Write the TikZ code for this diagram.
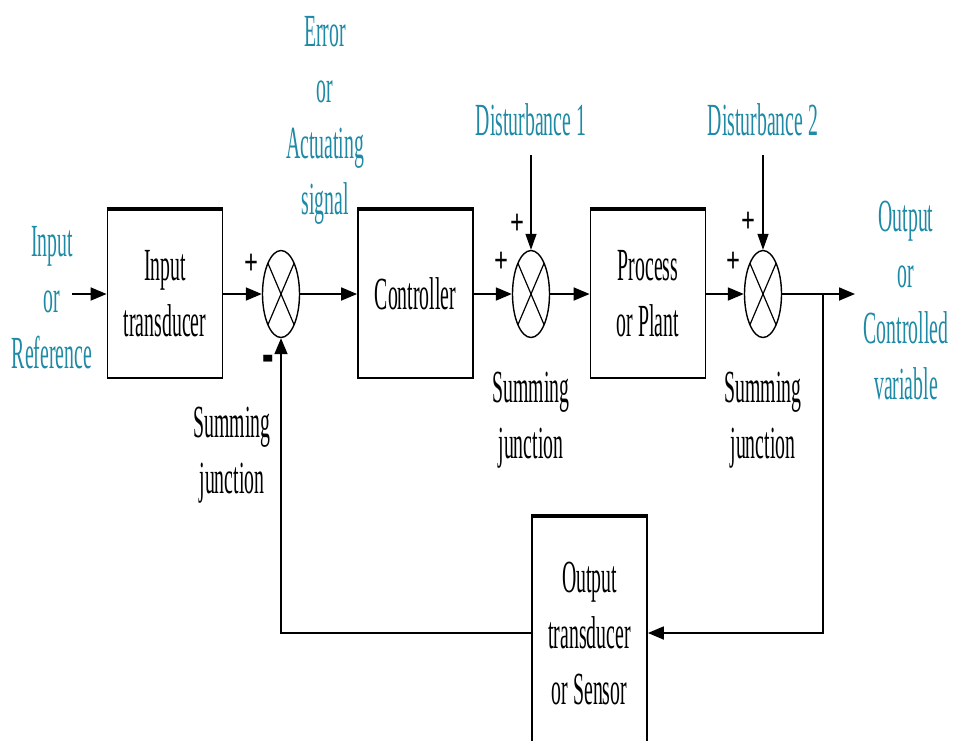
\documentclass[tikz,border=0pt]{standalone}
\usepackage{fontspec}
\setmainfont[FakeStretch=0.43]{Liberation Serif}
\newfontfamily\sgnfont[FakeStretch=0.68]{Liberation Serif}
\usetikzlibrary{arrows.meta,shapes.geometric,calc}
\definecolor{lbl}{RGB}{30,138,165}
\begin{document}
\begin{tikzpicture}[x=1pt,y=-1pt,
  blk/.style={draw, line width=1.8pt, minimum width=115pt, minimum height=168pt, inner sep=0pt, align=center, font=\fontsize{46}{56}\selectfont},
  sj/.style={draw, ellipse, line width=1.4pt, minimum width=37pt, minimum height=87pt, inner sep=0pt},
  sig/.style={line width=1.8pt, -{Triangle[length=16pt,width=13pt]}},
  dsig/.style={line width=1.3pt, -{Triangle[length=16pt,width=11pt]}},
  lab/.style={align=center, font=\fontsize{46}{56}\selectfont, inner sep=0pt},
  tl/.style={lab, text=lbl},
  sgn/.style={font=\sgnfont\bfseries\fontsize{36}{36}\selectfont, inner sep=0pt}
]
\useasboundingbox (0,0) rectangle (953,740);
\clip (0,0) rectangle (953,740);

% blocks
\node[blk] (it)  at (165,294) {Input\\transducer};
\node[blk] (ctl) at (415.5,294) {Controller};
\node[blk] (pl)  at (648,294) {Process\\or Plant};
\node[blk, minimum height=232pt] (sen) at (589.5,633) {Output\\transducer\\or Sensor};
\foreach \b in {it,ctl,pl,sen}
  \draw[line width=4pt] (\b.north west) -- (\b.north east);

% summing junctions
\node[sj] (j1) at (281,294) {};
\node[sj] (j2) at (531,294) {};
\node[sj] (j3) at (763,294) {};
\foreach \j in {j1,j2,j3} {
  \draw[line width=1.2pt] ($(\j.center)+(-13.1,-30.8)$) -- ($(\j.center)+(13.1,30.8)$);
  \draw[line width=1.2pt] ($(\j.center)+(13.1,-30.8)$) -- ($(\j.center)+(-13.1,30.8)$);
}

% labels
\node[tl] (inlab)  at (52,298)  {Input\\or\\Reference};
\node[tl] (err)    at (325,120) {Error\\or\\Actuating\\signal};
\node[tl] (dist1)  at (531,120) {Disturbance 1};
\node[tl] (dist2)  at (763,120) {Disturbance 2};
\node[tl] (outlab) at (906,300) {Output\\or\\Controlled\\variable};
\node[lab] (s1) at (232,455) {Summing\\junction};
\node[lab] (s2) at (531,420) {Summing\\junction};
\node[lab] (s3) at (763,420) {Summing\\junction};

% signs
\node[sgn] (p1)  at (251,264) {+};
\node[inner sep=0pt, font=\bfseries\fontsize{80}{80}\selectfont] (m1) at (268,366) {-};
\node[sgn] (p2a) at (517,224) {+};
\node[sgn] (p2b) at (501,262) {+};
\node[sgn] (p3a) at (748,222) {+};
\node[sgn] (p3b) at (733,262) {+};

% connectors
\coordinate (in)  at (72,294);
\coordinate (out) at (855,294);
\coordinate (br)  at (823,294);
\coordinate (d1)  at (531,155);
\coordinate (d2)  at (763,155);
\draw[sig] (in) -- (it.west);
\draw[sig] (it.east) -- (j1.west);
\draw[sig] (j1.east) -- (ctl.west);
\draw[sig] (ctl.east) -- (j2.west);
\draw[sig] (j2.east) -- (pl.west);
\draw[sig] (pl.east) -- (j3.west);
\draw[sig] (j3.east) -- (out);
\draw[sig] (br) |- (sen.east);
\draw[sig] (sen.west) -| (j1.south);
\draw[dsig] (d1) -- (j2.north);
\draw[dsig] (d2) -- (j3.north);
\end{tikzpicture}
\end{document}
